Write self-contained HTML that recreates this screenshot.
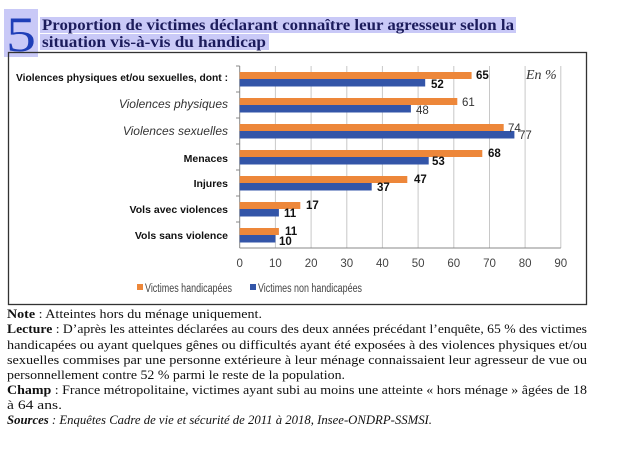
<!DOCTYPE html>
<html><head><meta charset="utf-8"><style>
html,body{margin:0;padding:0;background:#fff;}
svg{display:block}
</style></head><body>
<svg width="621" height="450" viewBox="0 0 621 450" xmlns="http://www.w3.org/2000/svg">
<rect x="0" y="0" width="621" height="450" fill="#fff"/>
<!-- title -->
<rect x="4" y="9" width="34" height="48" fill="#c9c9f7"/>
<rect x="40" y="17" width="476" height="16" fill="#c9c9f7"/>
<rect x="40" y="34" width="229" height="16" fill="#c9c9f7"/>
<text x="6" y="51" font-family="Liberation Serif, serif" font-size="50" fill="#1f3fb8" textLength="30" lengthAdjust="spacingAndGlyphs">5</text>
<g font-family="Liberation Serif, serif" font-size="15.5" font-weight="bold" fill="#1c1c5c">
<text x="42" y="30" textLength="472" lengthAdjust="spacingAndGlyphs">Proportion de victimes déclarant connaître leur agresseur selon la</text>
<text x="42" y="47" textLength="224" lengthAdjust="spacingAndGlyphs">situation vis-à-vis du handicap</text>
</g>
<!-- frame -->
<rect x="8.5" y="52.5" width="578" height="252" fill="none" stroke="#333" stroke-width="1.3"/>
<!-- grid -->
<g stroke="#c8c8c8" stroke-width="1">
<line x1="275.4" y1="66" x2="275.4" y2="248"/>
<line x1="311.1" y1="66" x2="311.1" y2="248"/>
<line x1="346.8" y1="66" x2="346.8" y2="248"/>
<line x1="382.4" y1="66" x2="382.4" y2="248"/>
<line x1="418.1" y1="66" x2="418.1" y2="248"/>
<line x1="453.8" y1="66" x2="453.8" y2="248"/>
<line x1="489.5" y1="66" x2="489.5" y2="248"/>
<line x1="525.1" y1="66" x2="525.1" y2="248"/>
<line x1="560.8" y1="66" x2="560.8" y2="248"/>
</g>
<g stroke="#888" stroke-width="1">
<line x1="239.7" y1="66" x2="239.7" y2="248"/>
<line x1="239.7" y1="248" x2="560.8" y2="248"/>
<line x1="236" y1="66" x2="239.7" y2="66"/><line x1="236" y1="92" x2="239.7" y2="92"/>
<line x1="236" y1="118" x2="239.7" y2="118"/><line x1="236" y1="144" x2="239.7" y2="144"/>
<line x1="236" y1="170" x2="239.7" y2="170"/><line x1="236" y1="196" x2="239.7" y2="196"/>
<line x1="236" y1="222" x2="239.7" y2="222"/>
</g>
<g fill="#ed873a">
<rect x="239.7" y="72" width="231.9" height="7"/>
<rect x="239.7" y="98" width="217.6" height="7"/>
<rect x="239.7" y="124" width="264" height="7"/>
<rect x="239.7" y="150" width="242.6" height="7"/>
<rect x="239.7" y="176" width="167.6" height="7"/>
<rect x="239.7" y="202" width="60.6" height="7"/>
<rect x="239.7" y="228" width="39.2" height="7"/>
</g>
<g fill="#3355a8">
<rect x="239.7" y="79" width="185.5" height="7.5"/>
<rect x="239.7" y="105" width="171.2" height="7.5"/>
<rect x="239.7" y="131" width="274.7" height="7.5"/>
<rect x="239.7" y="157" width="189" height="7.5"/>
<rect x="239.7" y="183" width="132" height="7.5"/>
<rect x="239.7" y="209" width="39.2" height="7.5"/>
<rect x="239.7" y="235" width="35.7" height="7.5"/>
</g>
<g font-family="Liberation Sans, sans-serif" font-size="11.5" fill="#111">
<text x="476" y="79" font-weight="bold">65</text>
<text x="431" y="88" font-weight="bold">52</text>
<text x="462" y="106" fill="#333">61</text>
<text x="416" y="114" fill="#333">48</text>
<text x="508" y="132" fill="#333">74</text>
<text x="519" y="139" fill="#333">77</text>
<text x="488" y="157" font-weight="bold">68</text>
<text x="432" y="165" font-weight="bold">53</text>
<text x="414" y="183" font-weight="bold">47</text>
<text x="377" y="191" font-weight="bold">37</text>
<text x="306" y="209" font-weight="bold">17</text>
<text x="284" y="217" font-weight="bold">11</text>
<text x="285" y="235" font-weight="bold">11</text>
<text x="279" y="245" font-weight="bold">10</text>
</g>
<text x="526" y="79" font-family="Liberation Serif, serif" font-style="italic" font-size="14" fill="#333">En %</text>
<g font-family="Liberation Sans, sans-serif" text-anchor="end" fill="#111">
<text x="228" y="81" font-size="10.5" font-weight="bold" textLength="212" lengthAdjust="spacingAndGlyphs">Violences physiques et/ou sexuelles, dont :</text>
<text x="228" y="108" font-size="12" font-style="italic" fill="#333">Violences physiques</text>
<text x="228" y="135" font-size="12" font-style="italic" fill="#333">Violences sexuelles</text>
<text x="228" y="162" font-size="10.5" font-weight="bold">Menaces</text>
<text x="228" y="187" font-size="10.5" font-weight="bold">Injures</text>
<text x="228" y="213" font-size="10.5" font-weight="bold">Vols avec violences</text>
<text x="228" y="239" font-size="10.5" font-weight="bold">Vols sans violence</text>
</g>
<g font-family="Liberation Sans, sans-serif" font-size="11.5" fill="#444" text-anchor="middle">
<text x="239.7" y="267">0</text><text x="275.4" y="267">10</text><text x="311.1" y="267">20</text>
<text x="346.8" y="267">30</text><text x="382.4" y="267">40</text><text x="418.1" y="267">50</text>
<text x="453.8" y="267">60</text><text x="489.5" y="267">70</text><text x="525.1" y="267">80</text>
<text x="560.8" y="267">90</text>
</g>
<rect x="137" y="284" width="6" height="6" fill="#ed873a"/>
<text x="145" y="292" font-family="Liberation Sans, sans-serif" font-size="11.5" fill="#444" textLength="87" lengthAdjust="spacingAndGlyphs">Victimes handicapées</text>
<rect x="250" y="284" width="6" height="6" fill="#3355a8"/>
<text x="258" y="292" font-family="Liberation Sans, sans-serif" font-size="11.5" fill="#444" textLength="104" lengthAdjust="spacingAndGlyphs">Victimes non handicapées</text>
<g font-family="Liberation Serif, serif" font-size="12.5" fill="#111">
<text x="7" y="318" textLength="255" lengthAdjust="spacingAndGlyphs"><tspan font-weight="bold">Note</tspan> : Atteintes hors du ménage uniquement.</text>
<text x="7" y="333" textLength="580" lengthAdjust="spacingAndGlyphs"><tspan font-weight="bold">Lecture</tspan> : D’après les atteintes déclarées au cours des deux années précédant l’enquête, 65 % des victimes</text>
<text x="7" y="349" textLength="580" lengthAdjust="spacingAndGlyphs">handicapées ou ayant quelques gênes ou difficultés ayant été exposées à des violences physiques et/ou</text>
<text x="7" y="364" textLength="580" lengthAdjust="spacingAndGlyphs">sexuelles commises par une personne extérieure à leur ménage connaissaient leur agresseur de vue ou</text>
<text x="7" y="379" textLength="338" lengthAdjust="spacingAndGlyphs">personnellement contre 52 % parmi le reste de la population.</text>
<text x="7" y="394" textLength="580" lengthAdjust="spacingAndGlyphs"><tspan font-weight="bold">Champ</tspan> : France métropolitaine, victimes ayant subi au moins une atteinte « hors ménage » âgées de 18</text>
<text x="7" y="409" textLength="55" lengthAdjust="spacingAndGlyphs">à 64 ans.</text>
<text x="7" y="424" textLength="425" lengthAdjust="spacingAndGlyphs" font-style="italic"><tspan font-weight="bold">Sources</tspan> : Enquêtes Cadre de vie et sécurité de 2011 à 2018, Insee-ONDRP-SSMSI.</text>
</g>
</svg>
</body></html>
